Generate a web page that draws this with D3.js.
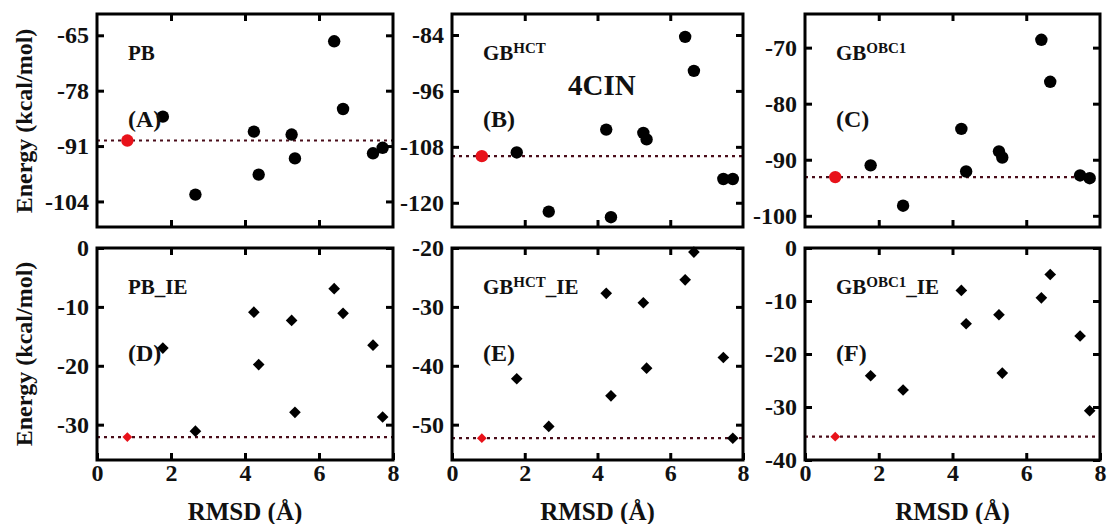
<!DOCTYPE html>
<html>
  <head>
    <meta charset="utf-8">
    <title>4CIN energy vs RMSD</title>
    <script src="https://cdn.jsdelivr.net/npm/d3@7"></script>
    <style>
      body { margin: 0; background: #fff; }
      text { font-family: "Liberation Serif", "Times New Roman", serif; font-weight: bold; fill: #111; }
    </style>
  </head>
  <body>
    <svg width="1108" height="524" id="mainsvg"></svg>
    <script>
      // RMSD of each pose (first one = native, drawn red)
      const rmsd = [0.82, 1.78, 2.66, 4.24, 4.37, 5.26, 5.35, 6.41, 6.65, 7.46, 7.72];

      // energies per method (kcal/mol)
      const pb       = [-89.7, -84.1, -102.4, -87.6, -97.7, -88.3, -93.9, -66.4, -82.3, -92.7, -91.4];
      const gbHct    = [-110.0, -109.2, -121.9, -104.3, -123.1, -105.0, -106.4, -84.4, -91.7, -114.9, -114.9];
      const gbObc1   = [-93.1, -91.0, -98.2, -84.5, -92.1, -88.5, -89.6, -68.6, -76.1, -92.8, -93.3];
      const pbIe     = [-32.1, -17.0, -31.1, -10.9, -19.8, -12.3, -27.9, -6.9, -11.1, -16.5, -28.7];
      const gbHctIe  = [-52.3, -42.2, -50.3, -27.7, -45.1, -29.3, -40.4, -25.4, -20.7, -38.6, -52.3];
      const gbObc1Ie = [-35.6, -24.1, -26.8, -8.0, -14.3, -12.6, -23.6, -9.4, -5.0, -16.6, -30.7];

      // axis domains and ticks
      const yDomains = [[-110, -60], [-125.2, -79.5], [-102, -64], [-36, 0], [-56, -20], [-40, 0]];
      const yTicks = [
        [-65, -78, -91, -104],
        [-84, -96, -108, -120],
        [-70, -80, -90, -100],
        [0, -10, -20, -30],
        [-20, -30, -40, -50],
        [0, -10, -20, -30, -40]
      ];
      const xTicks = [0, 2, 4, 6, 8];
      const panelNames = [['PB'], ['GB', 'HCT'], ['GB', 'OBC1'], ['PB_IE'], ['GB', 'HCT', '_IE'], ['GB', 'OBC1', '_IE']];
      const panelLetters = ['(A)', '(B)', '(C)', '(D)', '(E)', '(F)'];
      const series = [pb, gbHct, gbObc1, pbIe, gbHctIe, gbObc1Ie];

      const svg = d3.select('#mainsvg');
      const colLeft = [97, 452, 805];
      const colWidth = [296, 291, 295];
      const rowTop = [14, 248];
      const rowHeight = [213, 212];

      series.forEach((vals, i) => {
        const row = Math.floor(i / 3), col = i % 3;
        const w = colWidth[col], h = rowHeight[row];
        const g = svg.append('g')
          .attr('transform', `translate(${colLeft[col]}, ${rowTop[row]})`);

        const xScale = d3.scaleLinear().domain([0, 8]).range([0, w]);
        const yScale = d3.scaleLinear().domain(yDomains[i]).range([h, 0]);

        // axes, ticks pointing inward
        const yAxis = d3.axisLeft(yScale).tickValues(yTicks[i]).tickSize(-7).tickPadding(8);
        const yAxisR = d3.axisRight(yScale).tickValues(yTicks[i]).tickSize(-7).tickFormat('');
        const xAxisT = d3.axisTop(xScale).tickValues([2, 4, 6]).tickSize(-7).tickFormat('');
        const xAxisB = d3.axisBottom(xScale).tickValues(row === 1 ? xTicks : [2, 4, 6])
          .tickSize(-7).tickPadding(4).tickFormat(row === 1 ? d3.format('d') : '');

        const ya = g.append('g').call(yAxis);
        g.append('g').attr('transform', `translate(${w},0)`).call(yAxisR);
        g.append('g').call(xAxisT);
        g.append('g').attr('transform', `translate(0,${h})`).call(xAxisB);
        g.selectAll('.domain').remove();
        g.selectAll('.tick line').attr('stroke', '#000').attr('stroke-width', 3);
        g.selectAll('.tick text')
          .style('font-family', '"Liberation Serif", serif')
          .style('font-weight', 'bold')
          .style('font-size', '24px')
          .attr('fill', '#111');
        // hyphen rather than unicode minus, like the original
        ya.selectAll('.tick text').text(d => String(d));

        // reference line at native energy
        g.append('line')
          .attr('x1', 0).attr('x2', w)
          .attr('y1', yScale(vals[0])).attr('y2', yScale(vals[0]))
          .attr('stroke', '#4a0d1a')
          .attr('stroke-width', 2.2)
          .attr('stroke-dasharray', '3,4');

        // markers
        const pts = rmsd.map((r, k) => ({x: r, y: vals[k], native: k === 0}));
        if (row === 0) {
          g.selectAll('circle.pt')
            .data(pts)
            .join('circle')
            .attr('class', 'pt')
            .attr('cx', d => xScale(d.x))
            .attr('cy', d => yScale(d.y))
            .attr('r', 6.2)
            .attr('fill', d => d.native ? '#e8121a' : '#000');
        } else {
          const sym = d3.symbol().type(d3.symbolSquare);
          g.selectAll('path.pt')
            .data(pts)
            .join('path')
            .attr('class', 'pt')
            .attr('d', d => sym.size(d.native ? 48 : 68)())
            .attr('transform', d => `translate(${xScale(d.x)},${yScale(d.y)}) rotate(45)`)
            .attr('fill', d => d.native ? '#e8121a' : '#000');
        }

        // frame
        g.append('rect')
          .attr('width', w).attr('height', h)
          .attr('fill', 'none')
          .attr('stroke', '#000')
          .attr('stroke-width', 3);

        // panel name with superscript
        const nm = g.append('text').attr('x', 31).attr('y', 46).style('font-size', '21px');
        const parts = panelNames[i];
        nm.append('tspan').text(parts[0]);
        if (parts.length > 1) {
          nm.append('tspan').attr('dy', -7).style('font-size', '15px').text(parts[1]);
        }
        if (parts.length > 2) {
          nm.append('tspan').attr('dy', 7).text(parts[2]);
        }

        g.append('text')
          .attr('x', 31).attr('y', 113)
          .style('font-size', '24px')
          .text(panelLetters[i]);

        if (i === 1) {
          g.append('text')
            .attr('x', 116).attr('y', 81)
            .style('font-size', '29px')
            .text('4CIN');
        }

        if (row === 1) {
          svg.append('text')
            .attr('x', colLeft[col] + w / 2)
            .attr('y', 520)
            .attr('text-anchor', 'middle')
            .style('font-size', '25px')
            .text('RMSD (Å)');
        }
      });

      // y axis titles
      [121, 354].forEach(cy => {
        svg.append('text')
          .attr('transform', `translate(32, ${cy}) rotate(-90)`)
          .attr('text-anchor', 'middle')
          .style('font-size', '24px')
          .text('Energy (kcal/mol)');
      });
    </script>
  </body>
</html>
